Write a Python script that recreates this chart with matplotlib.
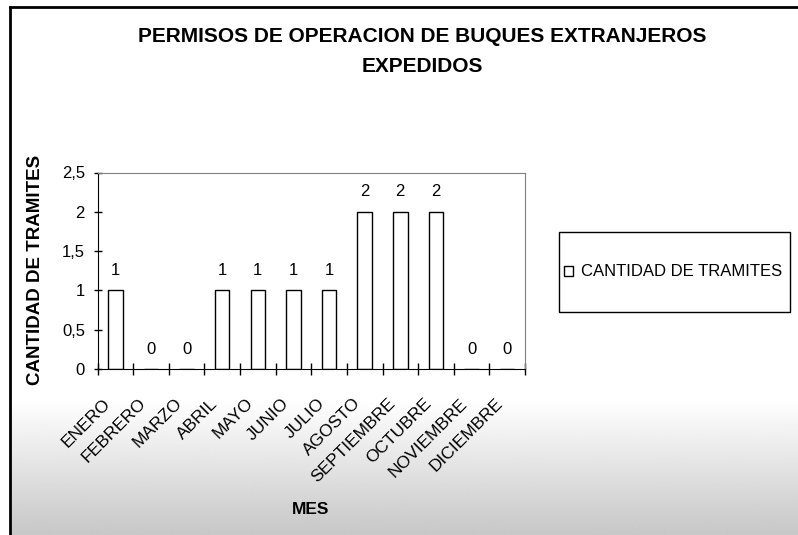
import numpy as np
import matplotlib
matplotlib.use("Agg")
import matplotlib.pyplot as plt
import matplotlib.transforms as mtransforms
from matplotlib.patches import Rectangle

plt.rcParams['font.family'] = ['Liberation Sans', 'DejaVu Sans']

# data
meses = ['ENERO', 'FEBRERO', 'MARZO', 'ABRIL', 'MAYO', 'JUNIO', 'JULIO',
         'AGOSTO', 'SEPTIEMBRE', 'OCTUBRE', 'NOVIEMBRE', 'DICIEMBRE']
tramites = [1, 0, 0, 1, 1, 1, 1, 2, 2, 2, 0, 0]
y_ticks = [0, 0.5, 1, 1.5, 2, 2.5]
y_tick_labels = ['0', '0,5', '1', '1,5', '2', '2,5']

W, H = 798, 535
fig = plt.figure(figsize=(W / 100, H / 100), dpi=100)

# background: border + gray gradient at the bottom
bg = fig.add_axes([0, 0, 1, 1], zorder=0)
bg.set_xlim(0, W)
bg.set_ylim(H, 0)
bg.axis('off')
rows = np.arange(7, H)
shade = np.where(rows < 400, 1.0, 1.0 - (rows - 400) / (H - 400) * 0.22)
grad = np.repeat(shade[:, None], 2, axis=1)
bg.imshow(grad, cmap='gray', vmin=0, vmax=1, extent=(9.5, W, H, 7),
          aspect='auto', interpolation='bilinear')
bg.plot([9.5, W], [7, 7], color='black', lw=2)
bg.plot([9.5, 9.5], [7, H], color='black', lw=2)

# main chart
ax = fig.add_axes([97.5 / W, 1 - 369 / H, 427.5 / W, 196.5 / H], zorder=1)
ax.set_facecolor('white')
x = np.arange(len(meses))
bars = ax.bar(x, tramites, width=0.41, color='white', edgecolor='black',
              linewidth=1, label='CANTIDAD DE TRAMITES')

for xi, v in zip(x, tramites):
    ax.annotate(str(v), (xi, v), xytext=(0, 9), textcoords='offset points',
                ha='center', va='bottom', fontsize=12)

ax.set_xlim(-0.5, len(meses) - 0.5)
ax.set_ylim(0, 2.5)
ax.set_yticks(y_ticks)
ax.set_yticklabels(y_tick_labels, fontsize=12)
ax.tick_params(axis='y', direction='inout', length=6, width=1, pad=6)

ax.set_xticks(np.arange(-0.5, len(meses)), labels=[])
ax.set_xticks(x, labels=meses, minor=True)
ax.tick_params(axis='x', which='major', direction='inout', length=9, width=1)
ax.tick_params(axis='x', which='minor', length=0, pad=23)
shift = mtransforms.ScaledTranslation(-7 / 100, 0, fig.dpi_scale_trans)
for lbl in ax.get_xticklabels(minor=True):
    lbl.set_rotation(45)
    lbl.set_ha('right')
    lbl.set_va('center')
    lbl.set_rotation_mode('anchor')
    lbl.set_fontsize(12.5)
    lbl.set_transform(lbl.get_transform() + shift)

for side in ['top', 'right']:
    ax.spines[side].set_color('#808080')
for side in ['left', 'bottom']:
    ax.spines[side].set_color('black')

# titles and labels
fig.text(422 / W, 1 - 36 / H, 'PERMISOS DE OPERACION DE BUQUES EXTRANJEROS',
         ha='center', va='center', fontsize=15, fontweight='bold')
fig.text(422 / W, 1 - 67 / H, 'EXPEDIDOS',
         ha='center', va='center', fontsize=15, fontweight='bold')
fig.text(36 / W, 1 - 270 / H, 'CANTIDAD DE TRAMITES', rotation=90,
         ha='center', va='center', fontsize=13.5, fontweight='bold')
fig.text(311 / W, 1 - 510 / H, 'MES', ha='center', va='center',
         fontsize=12.5, fontweight='bold')

# legend
bg.add_patch(Rectangle((559, 232), 231, 80, facecolor='white',
                       edgecolor='black', lw=1, zorder=2))
fig.legend(handles=[bars], loc='center', bbox_to_anchor=(673 / W, 1 - 272 / H),
           frameon=False, fontsize=12, handlelength=0.55, handleheight=0.55,
           handletextpad=0.5)

fig.savefig('out.png', dpi=100)
